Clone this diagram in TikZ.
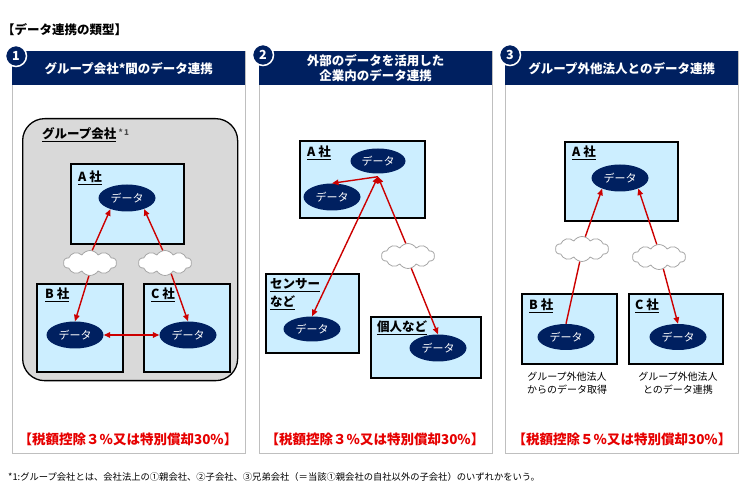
\documentclass[tikz,border=0pt]{standalone}
\usepackage{fontspec}
\setmainfont{Noto Sans CJK JP}
\usetikzlibrary{shapes.geometric,shapes.symbols,arrows.meta}
\definecolor{navy}{RGB}{0,32,96}
\definecolor{lblue}{RGB}{204,238,255}
\definecolor{boxgray}{RGB}{217,217,217}
\definecolor{arrred}{RGB}{204,0,0}
\definecolor{txtred}{RGB}{230,0,0}
\definecolor{pgray}{RGB}{191,191,191}
\newcommand\fsz[2]{\fontsize{#1}{#2}\selectfont}
\begin{document}
\begin{tikzpicture}[x=1pt,y=-1pt,
  panel/.style={draw=pgray,line width=1.2,fill=white,minimum width=233,minimum height=402,anchor=north west,inner sep=0},
  hdr/.style={fill=navy,text=white,font=\fsz{12.5}{15}\bfseries,minimum width=233,minimum height=34,anchor=north west,inner sep=0,align=center},
  numc/.style={circle,fill=navy,draw=white,line width=1.5,text=white,font=\fsz{12.5}{14}\bfseries,minimum size=21,inner sep=0},
  grpbox/.style={draw=black,line width=1.3,fill=boxgray,rounded corners=22,anchor=north west,inner sep=0},
  cobox/.style={draw=black,line width=1.6,fill=lblue,anchor=north west,inner sep=0},
  lbl/.style={font=\fsz{12.5}{15}\bfseries,anchor=west,inner sep=0},
  dat/.style={ellipse,fill=navy,text=white,font=\fsz{11}{13},minimum width=57,minimum height=27,inner sep=0},
  cld/.style={cloud,cloud puffs=10,cloud puff arc=115,aspect=2.2,draw=gray!70,line width=0.8,fill=white,minimum width=53,minimum height=25,inner sep=0},
  rarr/.style={draw=arrred,line width=1.4,-{Triangle[length=6.5pt,width=5.5pt]}},
  rline/.style={draw=arrred,line width=1.4},
  redt/.style={text=txtred,font=\fsz{13.5}{16}\bfseries,inner sep=0},
  subt/.style={font=\fsz{10}{12.5},align=center,inner sep=0}]
\useasboundingbox (0,0) rectangle (750,502);
\fill[white] (0,0) rectangle (750,502);
\node[font=\fsz{12.5}{15}\bfseries,anchor=west,inner sep=0] (title) at (2,30) {【データ連携の類型】};
% panels
\node[panel] (p1) at (12,51) {};
\node[panel] (p2) at (259,51) {};
\node[panel] (p3) at (505,51) {};
\node[hdr] (h1) at (12,51) {グループ会社*間のデータ連携};
\node[hdr] (h2) at (259,51) {外部のデータを活用した\\企業内のデータ連携};
\node[hdr] (h3) at (505,51) {グループ外他法人とのデータ連携};
\node[numc] (n1) at (16,56) {1};
\node[numc] (n2) at (263,55) {2};
\node[numc] (n3) at (510,55) {3};
% ---------- panel 1
\node[grpbox,minimum width=215,minimum height=262] (grp) at (22,118) {};
\node[lbl] (lg) at (42,135) {\underline{グループ会社}\,{\color{black!70}\fsz{8}{9}\raisebox{3pt}{*\,1}}};
\node[cobox,minimum width=113,minimum height=80] (bA1) at (70,163) {};
\node[cobox,minimum width=86,minimum height=88] (bB1) at (36,283) {};
\node[cobox,minimum width=86,minimum height=88] (bC1) at (143,283) {};
\node[lbl] (lA1) at (78,178) {\underline{A 社}};
\node[lbl] (lB1) at (45,295) {\underline{B 社}};
\node[lbl] (lC1) at (151,295) {\underline{C 社}};
\node[dat] (eA1) at (127,198) {データ};
\node[dat] (eB1) at (75,335) {データ};
\node[dat] (eC1) at (188,335) {データ};
\node[cld] (c11) at (90,263) {};
\node[cld] (c12) at (165,263) {};
\draw[rarr] (c11.80) -- (eA1.214);
\draw[rarr] (c12.100) -- (eA1.327);
\draw[rarr] (c11.265) -- (eB1.north);
\draw[rarr] (c12.300) -- (eC1.north);
\draw[rarr,{Triangle[length=6.5pt,width=5.5pt]}-{Triangle[length=6.5pt,width=5.5pt]}] (eB1.east) -- (eC1.west);
% ---------- panel 2
\node[cobox,minimum width=125,minimum height=77] (bA2) at (299,140) {};
\node[cobox,minimum width=93,minimum height=79] (bS2) at (265,273) {};
\node[cobox,minimum width=110,minimum height=61] (bI2) at (370,316) {};
\node[lbl] (lA2) at (307,153) {\underline{A 社}};
\node[lbl] (lS2a) at (270,285) {\underline{センサー}};
\node[lbl] (lS2b) at (270,303) {\underline{など}};
\node[lbl] (lI2) at (377,328) {\underline{個人など}};
\node[dat,minimum width=55,minimum height=25] (eA2) at (378,161) {データ};
\node[dat] (eA2b) at (332,197) {データ};
\node[dat,minimum height=25] (eS2) at (312,329) {データ};
\node[dat] (eI2) at (438,348) {データ};
\node[cld] (c21) at (408,256) {};
\draw[rarr] ([yshift=-3]eA2.south) -- (eA2b.north);
\draw[rarr,{Triangle[length=6.5pt,width=5.5pt]}-{Triangle[length=6.5pt,width=5.5pt]}] ([yshift=-3]eA2.south) -- (eS2.north);
\draw[rarr,{Triangle[length=6.5pt,width=5.5pt]}-] ([yshift=-3]eA2.south) -- (c21.100);
\draw[rarr] (c21.285) -- (eI2.north);
% ---------- panel 3
\node[cobox,minimum width=113,minimum height=79] (bA3) at (564,141) {};
\node[cobox,minimum width=95,minimum height=70] (bB3) at (521,293) {};
\node[cobox,minimum width=94,minimum height=70] (bC3) at (628,293) {};
\node[lbl] (lA3) at (572,153) {\underline{A 社}};
\node[lbl] (lB3) at (529,306) {\underline{B 社}};
\node[lbl] (lC3) at (635,306) {\underline{C 社}};
\node[dat] (eA3) at (620,178) {データ};
\node[dat,minimum height=26] (eB3) at (566,337) {データ};
\node[dat,minimum height=26] (eC3) at (678,337) {データ};
\node[cld] (c31) at (582,249) {};
\node[cld] (c32) at (659,257) {};
\draw[rarr] (c31.75) -- (eA3.211);
\draw[rarr] (c32.100) -- (eA3.330);
\draw[rline] (c31.260) -- (eB3.north);
\draw[rarr] (c32.290) -- (eC3.north);
\node[subt] (t3b) at (567,383) {グループ外他法人\\からのデータ取得};
\node[subt] (t3c) at (678,383) {グループ外他法人\\とのデータ連携};
% bottom
\node[redt] (r1) at (128,439) {【税額控除３\%又は特別償却30\%】};
\node[redt] (r2) at (375,439) {【税額控除３\%又は特別償却30\%】};
\node[redt] (r3) at (622,439) {【税額控除５\%又は特別償却30\%】};
\node[font=\fsz{9.3}{11},anchor=west,inner sep=0] (fn) at (8,477) {*1:グループ会社とは、会社法上の①親会社、②子会社、③兄弟会社（＝当該①親会社の自社以外の子会社）のいずれかをいう。};
\end{tikzpicture}
\end{document}
